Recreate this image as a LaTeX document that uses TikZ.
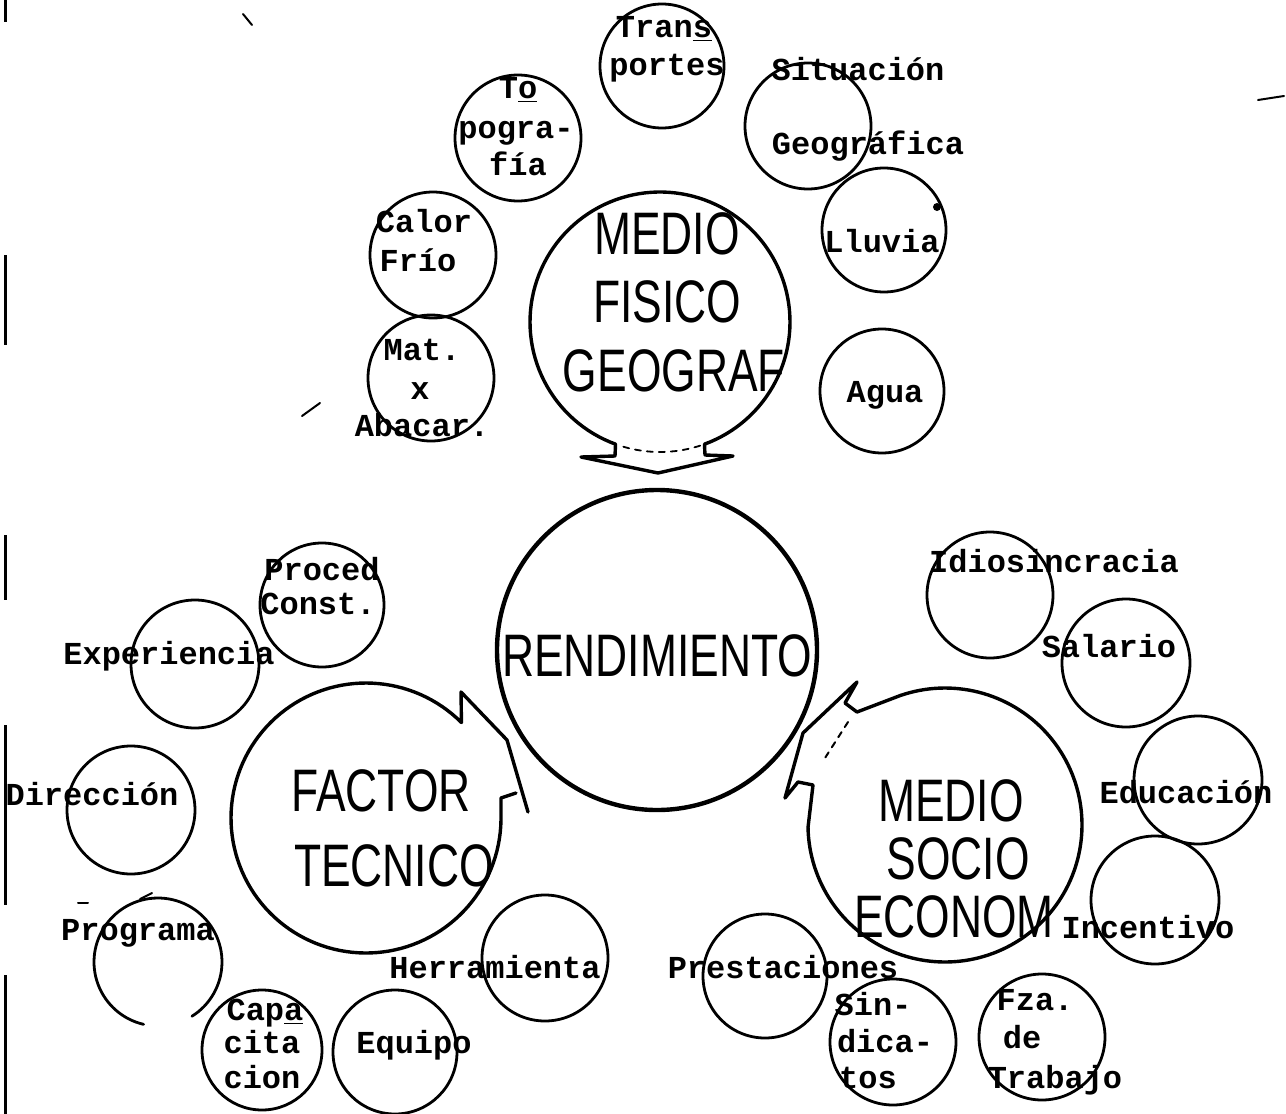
\documentclass[tikz,border=0pt]{standalone}
\usepackage{fontspec}
\usetikzlibrary{calc}
\newfontfamily\twfont{Liberation Mono}
\newfontfamily\bigsf[FakeStretch=0.74]{Liberation Sans}
\begin{document}
\begin{tikzpicture}[x=0.5pt,y=-0.5pt,line width=1.4pt,line join=round,line cap=round,
  sat/.style={circle,draw,line width=1.4pt,inner sep=0pt,outer sep=0pt,minimum size=#1},
  sat/.default=62pt,
  tw/.style={font=\twfont\bfseries\fontsize{16pt}{18pt}\selectfont,inner sep=0pt,
             text height=11.5pt,text depth=1.5pt},
  big/.style={font=\bigsf\fontsize{30pt}{32pt}\selectfont,inner sep=0pt,
              text height=21.5pt,text depth=0pt},
  hub/.style={line width=1.7pt},
  speck/.style={line width=1pt}]
\useasboundingbox (0,0) rectangle (1286,1114);

% ---------- page edge and specks ----------
\foreach \a/\b in {0/22,255/345,535/600,725/905,975/1114}
  \draw[line width=1.5pt,line cap=butt] (5,\a) -- (5,\b);
\draw[speck] (243,14) -- (252,25);
\draw[speck] (1258,100) -- (1284,96);
\draw[speck] (302,416) -- (320,403);

% ---------- medio fisico geografico ----------
\coordinate (MF) at (660,322);
\draw[hub] plot[domain=110:430,samples=120] ({660+130*cos(\x)},{322+130*sin(\x)})
  -- (705,455) -- (733,456) -- (658,473) -- (581,457) -- (615,456) -- cycle;
\draw[dashed,line width=0.9pt] plot[domain=72:108,samples=20] ({660+130*cos(\x)},{322+130*sin(\x)});
\node[big] (mf1) at (667,233) {MEDIO};
\node[big] (mf2) at (667,301) {FISICO};
\node[big] (mf3) at (674,370) {GEOGRAF};

\node[sat] (cTr) at (662,66) {};
\node[tw] (tTr1) at (664,27) {Tran\underline{s}};
\node[tw] (tTr2) at (667,65) {portes};

\node[sat=63pt] (cTo) at (518,138) {};
\node[tw] (tTo1) at (518,88) {T\underline{o}};
\node[tw] (tTo2) at (516,128) {pogra-};
\node[tw] (tTo3) at (518,165) {fía};

\node[sat=63pt] (cSi) at (808,126) {};
\node[tw] (tSi1) at (858,70) {Situación};
\node[tw] (tSi2) at (868,144) {Geográfica};

\node[sat=63pt] (cCa) at (433,255) {};
\node[tw] (tCa1) at (424,222) {Calor};
\node[tw] (tCa2) at (418,261) {Frío};

\node[sat] (cLl) at (884,230) {};
\node[tw] (tLl) at (882,242) {Lluvia};
\fill (937,207) circle[radius=4];

\node[sat=63pt] (cMa) at (431,378) {};
\node[tw] (tMa1) at (422,350) {Mat.};
\node[tw] (tMa2) at (420,389) {x};
\node[tw] (tMa3) at (422,426) {Abacar.};

\node[sat] (cAg) at (882,391) {};
\node[tw] (tAg) at (885,392) {Agua};

% ---------- rendimiento ----------
\node[circle,draw,line width=2.2pt,inner sep=0pt,minimum size=160pt] (REN) at (657,650) {};
\node[big] (tREN) at (657,655) {RENDIMIENTO};

% ---------- factor tecnico ----------
\coordinate (FT) at (366,818);
\draw[hub] ($(FT)+(150,-25)$) -- ($(FT)+(135,-20)$)
  -- plot[domain=1:315,samples=120] ({366+135*cos(\x)},{818+135*sin(\x)})
  -- ($(FT)+(95,-126)$) -- ($(FT)+(141,-78)$) -- ($(FT)+(162,-6)$);
\node[big] (ft1) at (381,790) {FACTOR};
\node[big] (ft2) at (394,865) {TECNICO};

\node[sat] (cPr) at (322,605) {};
\node[tw] (tPr1) at (322,570) {Proced};
\node[tw] (tPr2) at (318,604) {Const.};

\node[sat=64pt] (cEx) at (195,664) {};
\node[tw] (tEx) at (169,654) {Experiencia};

\node[sat=64pt] (cDi) at (131,810) {};
\node[tw] (tDi) at (92,795) {Dirección};

\draw plot[domain=103:418,samples=90] ({158+64*cos(\x)},{962+64*sin(\x)});
\coordinate (cPg) at (158,962);
\node[tw] (tPg) at (138,930) {Programa};
\draw[speck] (78,903) -- (88,903);
\draw[speck] (140,899) -- (152,893);

\node[sat=60pt] (cCp) at (262,1050) {};
\node[tw] (tCp1) at (265,1010) {Cap\underline{a}};
\node[tw] (tCp2) at (262,1043) {cita};
\node[tw] (tCp3) at (262,1078) {cion};

\node[sat] (cEq) at (395,1052) {};
\node[tw] (tEq) at (414,1043) {Equipo};

\node[sat=63pt] (cHe) at (545,958) {};
\node[tw] (tHe) at (495,968) {Herramienta};

% ---------- medio socio economico ----------
\coordinate (SE) at (945,825);
\draw[hub] ($(SE)+(-88,-113)$)
  -- plot[domain=251:539,samples=140] ({945+137*cos(\x)},{825+137*sin(\x)})
  -- ($(SE)+(-132,-40)$) -- ($(SE)+(-147,-43)$) -- ($(SE)+(-160,-27)$)
  -- ($(SE)+(-142,-92)$) -- ($(SE)+(-88,-143)$) -- ($(SE)+(-100,-122)$) -- cycle;
\draw[dashed,line width=1pt] ($(SE)+(-97,-103)$) -- ($(SE)+(-120,-67)$);
\node[big] (se1) at (951,800) {MEDIO};
\node[big] (se2) at (958,858) {SOCIO};
\node[big] (se3) at (954,916) {ECONOM};

\node[sat=63pt] (cId) at (990,595) {};
\node[tw] (tId) at (1054,562) {Idiosincracia};

\node[sat=64pt] (cSa) at (1126,663) {};
\node[tw] (tSa) at (1109,647) {Salario};

\node[sat=64pt] (cEd) at (1198,780) {};
\node[tw] (tEd) at (1186,793) {Educación};

\node[sat=64pt] (cIn) at (1155,900) {};
\node[tw] (tIn) at (1148,928) {Incentivo};

\node[sat] (cPs) at (765,976) {};
\node[tw] (tPs) at (783,968) {Prestaciones};

\node[sat=63pt] (cSn) at (893,1042) {};
\node[tw] (tSn1) at (873,1005) {Sin-};
\node[tw] (tSn2) at (885,1042) {dica-};
\node[tw] (tSn3) at (868,1078) {tos};

\node[sat=63pt] (cFz) at (1042,1037) {};
\node[tw] (tFz1) at (1035,1000) {Fza.};
\node[tw] (tFz2) at (1022,1038) {de};
\node[tw] (tFz3) at (1055,1078) {Trabajo};
\end{tikzpicture}
\end{document}
